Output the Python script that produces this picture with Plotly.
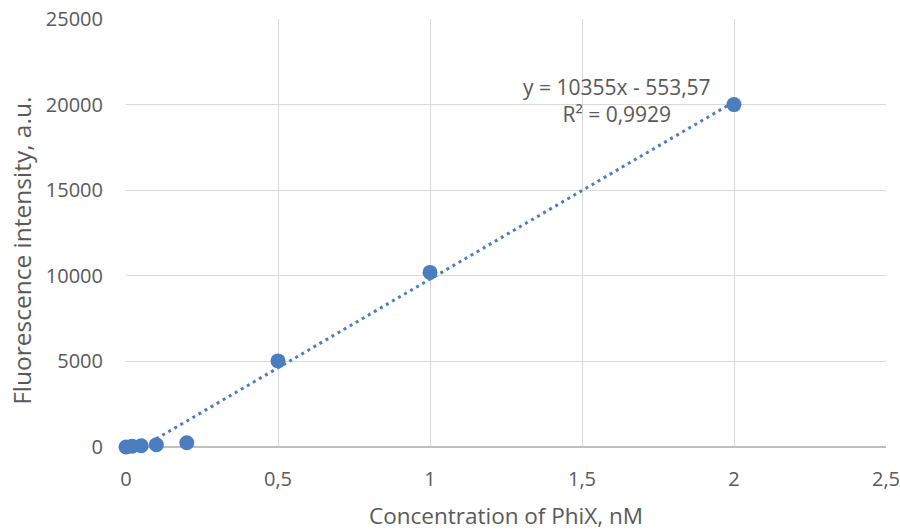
import plotly.graph_objects as go
import numpy as np

conc = [0, 0.02, 0.05, 0.1, 0.2, 0.5, 1, 2]
intensity = [0, 40, 75, 130, 250, 5030, 10200, 20000]
slope = 10355
intercept = -553.57
eq_text = "y = 10355x - 553,57"
r2_text = "R² = 0,9929"
x_title = "Concentration of PhiX, nM"
y_title = "Fluorescence intensity, a.u."
x_ticks = [0, 0.5, 1, 1.5, 2, 2.5]
x_tick_labels = ["0", "0,5", "1", "1,5", "2", "2,5"]
y_ticks = [0, 5000, 10000, 15000, 20000, 25000]
y_tick_labels = ["0", "5000", "10000", "15000", "20000", "25000"]

blue = "#4a7ebf"
font_family = "Open Sans"
text_color = "#595959"

fit_x = np.linspace(0, 2, 200)
fit_y = slope * fit_x + intercept

fig = go.Figure()
fig.add_trace(go.Scatter(x=fit_x, y=fit_y, mode="lines",
                         line=dict(color=blue, width=3, dash="3px,4px"),
                         hoverinfo="skip", showlegend=False))
fig.add_trace(go.Scatter(x=conc, y=intensity, mode="markers",
                         marker=dict(color=blue, size=15),
                         cliponaxis=False, showlegend=False))

fig.add_annotation(x=1.615, y=20240, xref="x", yref="y",
                   text=eq_text + "<br>" + r2_text, align="center",
                   showarrow=False, yanchor="middle", xanchor="center",
                   font=dict(family=font_family, size=21, color=text_color))

# axis titles
fig.add_annotation(x=0.5, y=-0.161, xref="paper", yref="paper", text=x_title,
                   showarrow=False, xanchor="center", yanchor="middle",
                   font=dict(family=font_family, size=22.5, color=text_color))
fig.add_annotation(x=-0.137, y=0.458, xref="paper", yref="paper", text=y_title,
                   showarrow=False, xanchor="center", yanchor="middle",
                   textangle=-90,
                   font=dict(family=font_family, size=24.5, color=text_color))

fig.update_layout(
    width=900, height=531,
    margin=dict(l=126, r=14, t=19, b=84),
    plot_bgcolor="white", paper_bgcolor="white",
    font=dict(family=font_family, size=20, color=text_color),
    xaxis=dict(range=[0, 2.5], tickvals=x_ticks, ticktext=x_tick_labels,
               showgrid=True, gridcolor="#d9d9d9", gridwidth=1,
               zeroline=False, showline=False, ticks="", automargin=False,
               ticklabelstandoff=18, ticklabeloverflow="allow",
               tickfont=dict(size=20, color=text_color)),
    yaxis=dict(range=[0, 25000], tickvals=y_ticks, ticktext=y_tick_labels,
               showgrid=True, gridcolor="#d9d9d9", gridwidth=1,
               zeroline=True, zerolinecolor="#bfbfbf", zerolinewidth=1.5,
               showline=False, ticks="", ticklabelstandoff=22, automargin=False,
               ticklabeloverflow="allow",
               tickfont=dict(size=20, color=text_color)),
)

fig.write_html("out.html")
